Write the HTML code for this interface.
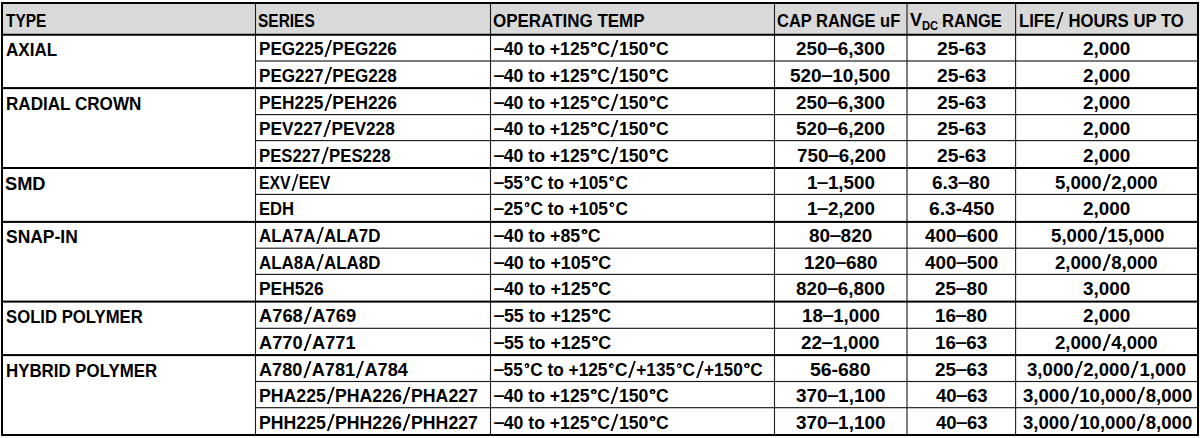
<!DOCTYPE html>
<html><head><meta charset="utf-8"><style>
html,body{margin:0;padding:0;background:#fff;width:1200px;height:438px;overflow:hidden}
svg{position:absolute;left:0;top:0}
.s,.d{display:inline-block;position:relative;color:transparent}.s{width:9.3px}.s:after{content:'';position:absolute;left:3.9px;top:0.39px;width:2.1px;height:17.25px;background:#000;transform:skewX(-19.8deg)}.d{width:7.8px}.d:before{content:'';position:absolute;left:1.6px;top:1.94px;width:5.5px;height:5.5px;border-radius:50%;background:#000}.d:after{content:'';position:absolute;left:3.25px;top:3.59px;width:2.2px;height:2.2px;border-radius:50%;background:#fff}.n{display:inline-block;transform:translateY(-1.1px) scaleX(1.12)}
b{position:absolute;font-weight:bold;font-size:18px;line-height:18px;font-family:"Liberation Sans",sans-serif;color:#000;white-space:nowrap;transform-origin:0 0}
</style></head><body>
<svg width="1200" height="438" viewBox="0 0 1200 438"><rect x="3.00" y="4.00" width="1194.00" height="30.60" fill="#d9d9d9"/><rect x="254.95" y="2.00" width="1.10" height="434.00" fill="#1e1e1e"/><rect x="489.95" y="2.00" width="1.10" height="434.00" fill="#1e1e1e"/><rect x="773.95" y="2.00" width="1.10" height="434.00" fill="#1e1e1e"/><rect x="1015.05" y="2.00" width="1.10" height="434.00" fill="#1e1e1e"/><rect x="906.40" y="2.00" width="1.20" height="434.00" fill="#2a2a2a"/><rect x="255.00" y="60.42" width="943.00" height="1.15" fill="#1a1a1a"/><rect x="1.00" y="87.10" width="1198.00" height="2.00" fill="#000"/><rect x="255.00" y="114.02" width="943.00" height="1.15" fill="#1a1a1a"/><rect x="255.00" y="140.03" width="943.00" height="1.15" fill="#1a1a1a"/><rect x="1.00" y="167.00" width="1198.00" height="2.00" fill="#000"/><rect x="255.00" y="193.83" width="943.00" height="1.15" fill="#1a1a1a"/><rect x="1.00" y="220.90" width="1198.00" height="2.00" fill="#000"/><rect x="255.00" y="247.62" width="943.00" height="1.15" fill="#1a1a1a"/><rect x="255.00" y="273.82" width="943.00" height="1.15" fill="#1a1a1a"/><rect x="1.00" y="300.60" width="1198.00" height="2.00" fill="#000"/><rect x="255.00" y="327.73" width="943.00" height="1.15" fill="#1a1a1a"/><rect x="1.00" y="354.10" width="1198.00" height="2.00" fill="#000"/><rect x="255.00" y="380.93" width="943.00" height="1.15" fill="#1a1a1a"/><rect x="255.00" y="407.12" width="943.00" height="1.15" fill="#1a1a1a"/><rect x="1.00" y="33.74" width="1198.00" height="2.00" fill="#000"/><rect x="1.00" y="2.00" width="1198.00" height="2.00" fill="#000"/><rect x="1.00" y="434.00" width="1198.00" height="2.00" fill="#000"/><rect x="1.00" y="2.00" width="2.00" height="434.00" fill="#000"/><rect x="1197.00" y="2.00" width="2.00" height="434.00" fill="#000"/></svg>
<b style="left:6.30px;top:11.90px;transform:scaleX(0.8587)">TYPE</b><b style="left:258.34px;top:11.90px;transform:scaleX(0.8594)">SERIES</b><b style="left:493.36px;top:11.90px;transform:scaleX(0.9434)">OPERATING TEMP</b><b style="left:777.08px;top:11.90px;transform:scaleX(0.9150)">CAP RANGE uF</b><b style="left:1018.77px;top:11.90px;transform:scaleX(0.9278)">LIFE<span class="s">/</span> HOURS UP TO</b><b style="left:5.55px;top:41.00px;transform:scaleX(0.9472)">AXIAL</b><b style="left:258.85px;top:40.00px;transform:scaleX(0.9476)">PEG225<span class="s">/</span>PEG226</b><b style="left:493.75px;top:40.00px;transform:scaleX(0.9789)"><span class="n">–</span>40 to +125<span class="d">°</span>C<span class="s">/</span>150<span class="d">°</span>C</b><b style="left:796.20px;top:40.00px;transform:scaleX(1.0452)">250<span class="n">–</span>6,300</b><b style="left:936.68px;top:40.00px;transform:scaleX(1.0682)">25-63</b><b style="left:1083.20px;top:40.00px;transform:scaleX(1.0523)">2,000</b><b style="left:258.85px;top:67.00px;transform:scaleX(0.9476)">PEG227<span class="s">/</span>PEG228</b><b style="left:493.75px;top:67.00px;transform:scaleX(0.9789)"><span class="n">–</span>40 to +125<span class="d">°</span>C<span class="s">/</span>150<span class="d">°</span>C</b><b style="left:790.45px;top:67.00px;transform:scaleX(1.0538)">520<span class="n">–</span>10,500</b><b style="left:936.68px;top:67.00px;transform:scaleX(1.0682)">25-63</b><b style="left:1083.20px;top:67.00px;transform:scaleX(1.0523)">2,000</b><b style="left:5.55px;top:95.00px;transform:scaleX(0.9489)">RADIAL CROWN</b><b style="left:258.84px;top:94.00px;transform:scaleX(0.9609)">PEH225<span class="s">/</span>PEH226</b><b style="left:493.75px;top:94.00px;transform:scaleX(0.9789)"><span class="n">–</span>40 to +125<span class="d">°</span>C<span class="s">/</span>150<span class="d">°</span>C</b><b style="left:796.20px;top:94.00px;transform:scaleX(1.0452)">250<span class="n">–</span>6,300</b><b style="left:936.68px;top:94.00px;transform:scaleX(1.0682)">25-63</b><b style="left:1083.20px;top:94.00px;transform:scaleX(1.0523)">2,000</b><b style="left:258.84px;top:120.00px;transform:scaleX(0.9604)">PEV227<span class="s">/</span>PEV228</b><b style="left:493.75px;top:120.00px;transform:scaleX(0.9789)"><span class="n">–</span>40 to +125<span class="d">°</span>C<span class="s">/</span>150<span class="d">°</span>C</b><b style="left:796.20px;top:120.00px;transform:scaleX(1.0452)">520<span class="n">–</span>6,200</b><b style="left:936.68px;top:120.00px;transform:scaleX(1.0682)">25-63</b><b style="left:1083.20px;top:120.00px;transform:scaleX(1.0523)">2,000</b><b style="left:258.87px;top:147.00px;transform:scaleX(0.9300)">PES227<span class="s">/</span>PES228</b><b style="left:493.75px;top:147.00px;transform:scaleX(0.9789)"><span class="n">–</span>40 to +125<span class="d">°</span>C<span class="s">/</span>150<span class="d">°</span>C</b><b style="left:796.70px;top:147.00px;transform:scaleX(1.0452)">750<span class="n">–</span>6,200</b><b style="left:936.68px;top:147.00px;transform:scaleX(1.0682)">25-63</b><b style="left:1083.20px;top:147.00px;transform:scaleX(1.0523)">2,000</b><b style="left:5.49px;top:175.00px;transform:scaleX(1.0132)">SMD</b><b style="left:258.92px;top:174.00px;transform:scaleX(0.8775)">EXV<span class="s">/</span>EEV</b><b style="left:493.75px;top:174.00px;transform:scaleX(0.9622)"><span class="n">–</span>55<span class="d">°</span>C to +105<span class="d">°</span>C</b><b style="left:807.21px;top:174.00px;transform:scaleX(1.0437)">1<span class="n">–</span>1,500</b><b style="left:932.20px;top:174.00px;transform:scaleX(1.0519)">6.3<span class="n">–</span>80</b><b style="left:1055.22px;top:174.00px;transform:scaleX(1.0332)">5,000<span class="s">/</span>2,000</b><b style="left:258.88px;top:200.00px;transform:scaleX(0.9222)">EDH</b><b style="left:493.75px;top:200.00px;transform:scaleX(0.9622)"><span class="n">–</span>25<span class="d">°</span>C to +105<span class="d">°</span>C</b><b style="left:807.21px;top:200.00px;transform:scaleX(1.0437)">1<span class="n">–</span>2,200</b><b style="left:929.18px;top:200.00px;transform:scaleX(1.0720)">6.3-450</b><b style="left:1083.20px;top:200.00px;transform:scaleX(1.0523)">2,000</b><b style="left:5.53px;top:228.00px;transform:scaleX(0.9694)">SNAP-IN</b><b style="left:258.86px;top:227.00px;transform:scaleX(0.9391)">ALA7A<span class="s">/</span>ALA7D</b><b style="left:493.75px;top:227.00px;transform:scaleX(0.9838)"><span class="n">–</span>40 to +85<span class="d">°</span>C</b><b style="left:808.70px;top:227.00px;transform:scaleX(1.0517)">80<span class="n">–</span>820</b><b style="left:925.25px;top:227.00px;transform:scaleX(1.0435)">400<span class="n">–</span>600</b><b style="left:1050.71px;top:227.00px;transform:scaleX(1.0370)">5,000<span class="s">/</span>15,000</b><b style="left:258.86px;top:254.00px;transform:scaleX(0.9391)">ALA8A<span class="s">/</span>ALA8D</b><b style="left:493.75px;top:254.00px;transform:scaleX(0.9894)"><span class="n">–</span>40 to +105<span class="d">°</span>C</b><b style="left:804.20px;top:254.00px;transform:scaleX(1.0478)">120<span class="n">–</span>680</b><b style="left:925.25px;top:254.00px;transform:scaleX(1.0435)">400<span class="n">–</span>500</b><b style="left:1055.22px;top:254.00px;transform:scaleX(1.0332)">2,000<span class="s">/</span>8,000</b><b style="left:258.84px;top:280.00px;transform:scaleX(0.9646)">PEH526</b><b style="left:493.75px;top:280.00px;transform:scaleX(0.9894)"><span class="n">–</span>40 to +125<span class="d">°</span>C</b><b style="left:796.20px;top:280.00px;transform:scaleX(1.0452)">820<span class="n">–</span>6,800</b><b style="left:934.95px;top:280.00px;transform:scaleX(1.0521)">25<span class="n">–</span>80</b><b style="left:1083.20px;top:280.00px;transform:scaleX(1.0523)">3,000</b><b style="left:5.57px;top:308.00px;transform:scaleX(0.9281)">SOLID POLYMER</b><b style="left:258.78px;top:307.00px;transform:scaleX(1.0181)">A768<span class="s">/</span>A769</b><b style="left:493.75px;top:307.00px;transform:scaleX(0.9894)"><span class="n">–</span>55 to +125<span class="d">°</span>C</b><b style="left:801.71px;top:307.00px;transform:scaleX(1.0377)">18<span class="n">–</span>1,000</b><b style="left:935.46px;top:307.00px;transform:scaleX(1.0417)">16<span class="n">–</span>80</b><b style="left:1083.20px;top:307.00px;transform:scaleX(1.0523)">2,000</b><b style="left:258.79px;top:334.00px;transform:scaleX(1.0128)">A770<span class="s">/</span>A771</b><b style="left:493.75px;top:334.00px;transform:scaleX(0.9894)"><span class="n">–</span>55 to +125<span class="d">°</span>C</b><b style="left:801.21px;top:334.00px;transform:scaleX(1.0445)">22<span class="n">–</span>1,000</b><b style="left:935.46px;top:334.00px;transform:scaleX(1.0417)">16<span class="n">–</span>63</b><b style="left:1055.22px;top:334.00px;transform:scaleX(1.0332)">2,000<span class="s">/</span>4,000</b><b style="left:5.56px;top:362.00px;transform:scaleX(0.9363)">HYBRID POLYMER</b><b style="left:258.79px;top:361.00px;transform:scaleX(1.0082)">A780<span class="s">/</span>A781<span class="s">/</span>A784</b><b style="left:493.75px;top:361.00px;transform:scaleX(0.9580)"><span class="n">–</span>55<span class="d">°</span>C to +125<span class="d">°</span>C<span class="s">/</span>+135<span class="d">°</span>C<span class="s">/</span>+150<span class="d">°</span>C</b><b style="left:810.42px;top:361.00px;transform:scaleX(1.0787)">56-680</b><b style="left:934.95px;top:361.00px;transform:scaleX(1.0521)">25<span class="n">–</span>63</b><b style="left:1027.22px;top:361.00px;transform:scaleX(1.0345)">3,000<span class="s">/</span>2,000<span class="s">/</span>1,000</b><b style="left:258.82px;top:387.00px;transform:scaleX(0.9828)">PHA225<span class="s">/</span>PHA226<span class="s">/</span>PHA227</b><b style="left:493.75px;top:387.00px;transform:scaleX(0.9789)"><span class="n">–</span>40 to +125<span class="d">°</span>C<span class="s">/</span>150<span class="d">°</span>C</b><b style="left:796.20px;top:387.00px;transform:scaleX(1.0512)">370<span class="n">–</span>1,100</b><b style="left:936.00px;top:387.00px;transform:scaleX(1.0306)">40<span class="n">–</span>63</b><b style="left:1022.72px;top:387.00px;transform:scaleX(1.0340)">3,000<span class="s">/</span>10,000<span class="s">/</span>8,000</b><b style="left:258.82px;top:414.00px;transform:scaleX(0.9828)">PHH225<span class="s">/</span>PHH226<span class="s">/</span>PHH227</b><b style="left:493.75px;top:414.00px;transform:scaleX(0.9789)"><span class="n">–</span>40 to +125<span class="d">°</span>C<span class="s">/</span>150<span class="d">°</span>C</b><b style="left:796.20px;top:414.00px;transform:scaleX(1.0512)">370<span class="n">–</span>1,100</b><b style="left:936.00px;top:414.00px;transform:scaleX(1.0306)">40<span class="n">–</span>63</b><b style="left:1022.72px;top:414.00px;transform:scaleX(1.0340)">3,000<span class="s">/</span>10,000<span class="s">/</span>8,000</b><b style="left:910.1px;top:10.9px">V</b><b style="left:921.6px;top:16.70px;font-size:13px;transform:scaleX(0.86)">DC</b><b style="left:942px;top:11.9px;transform:scaleX(0.92)">RANGE</b>
</body></html>
